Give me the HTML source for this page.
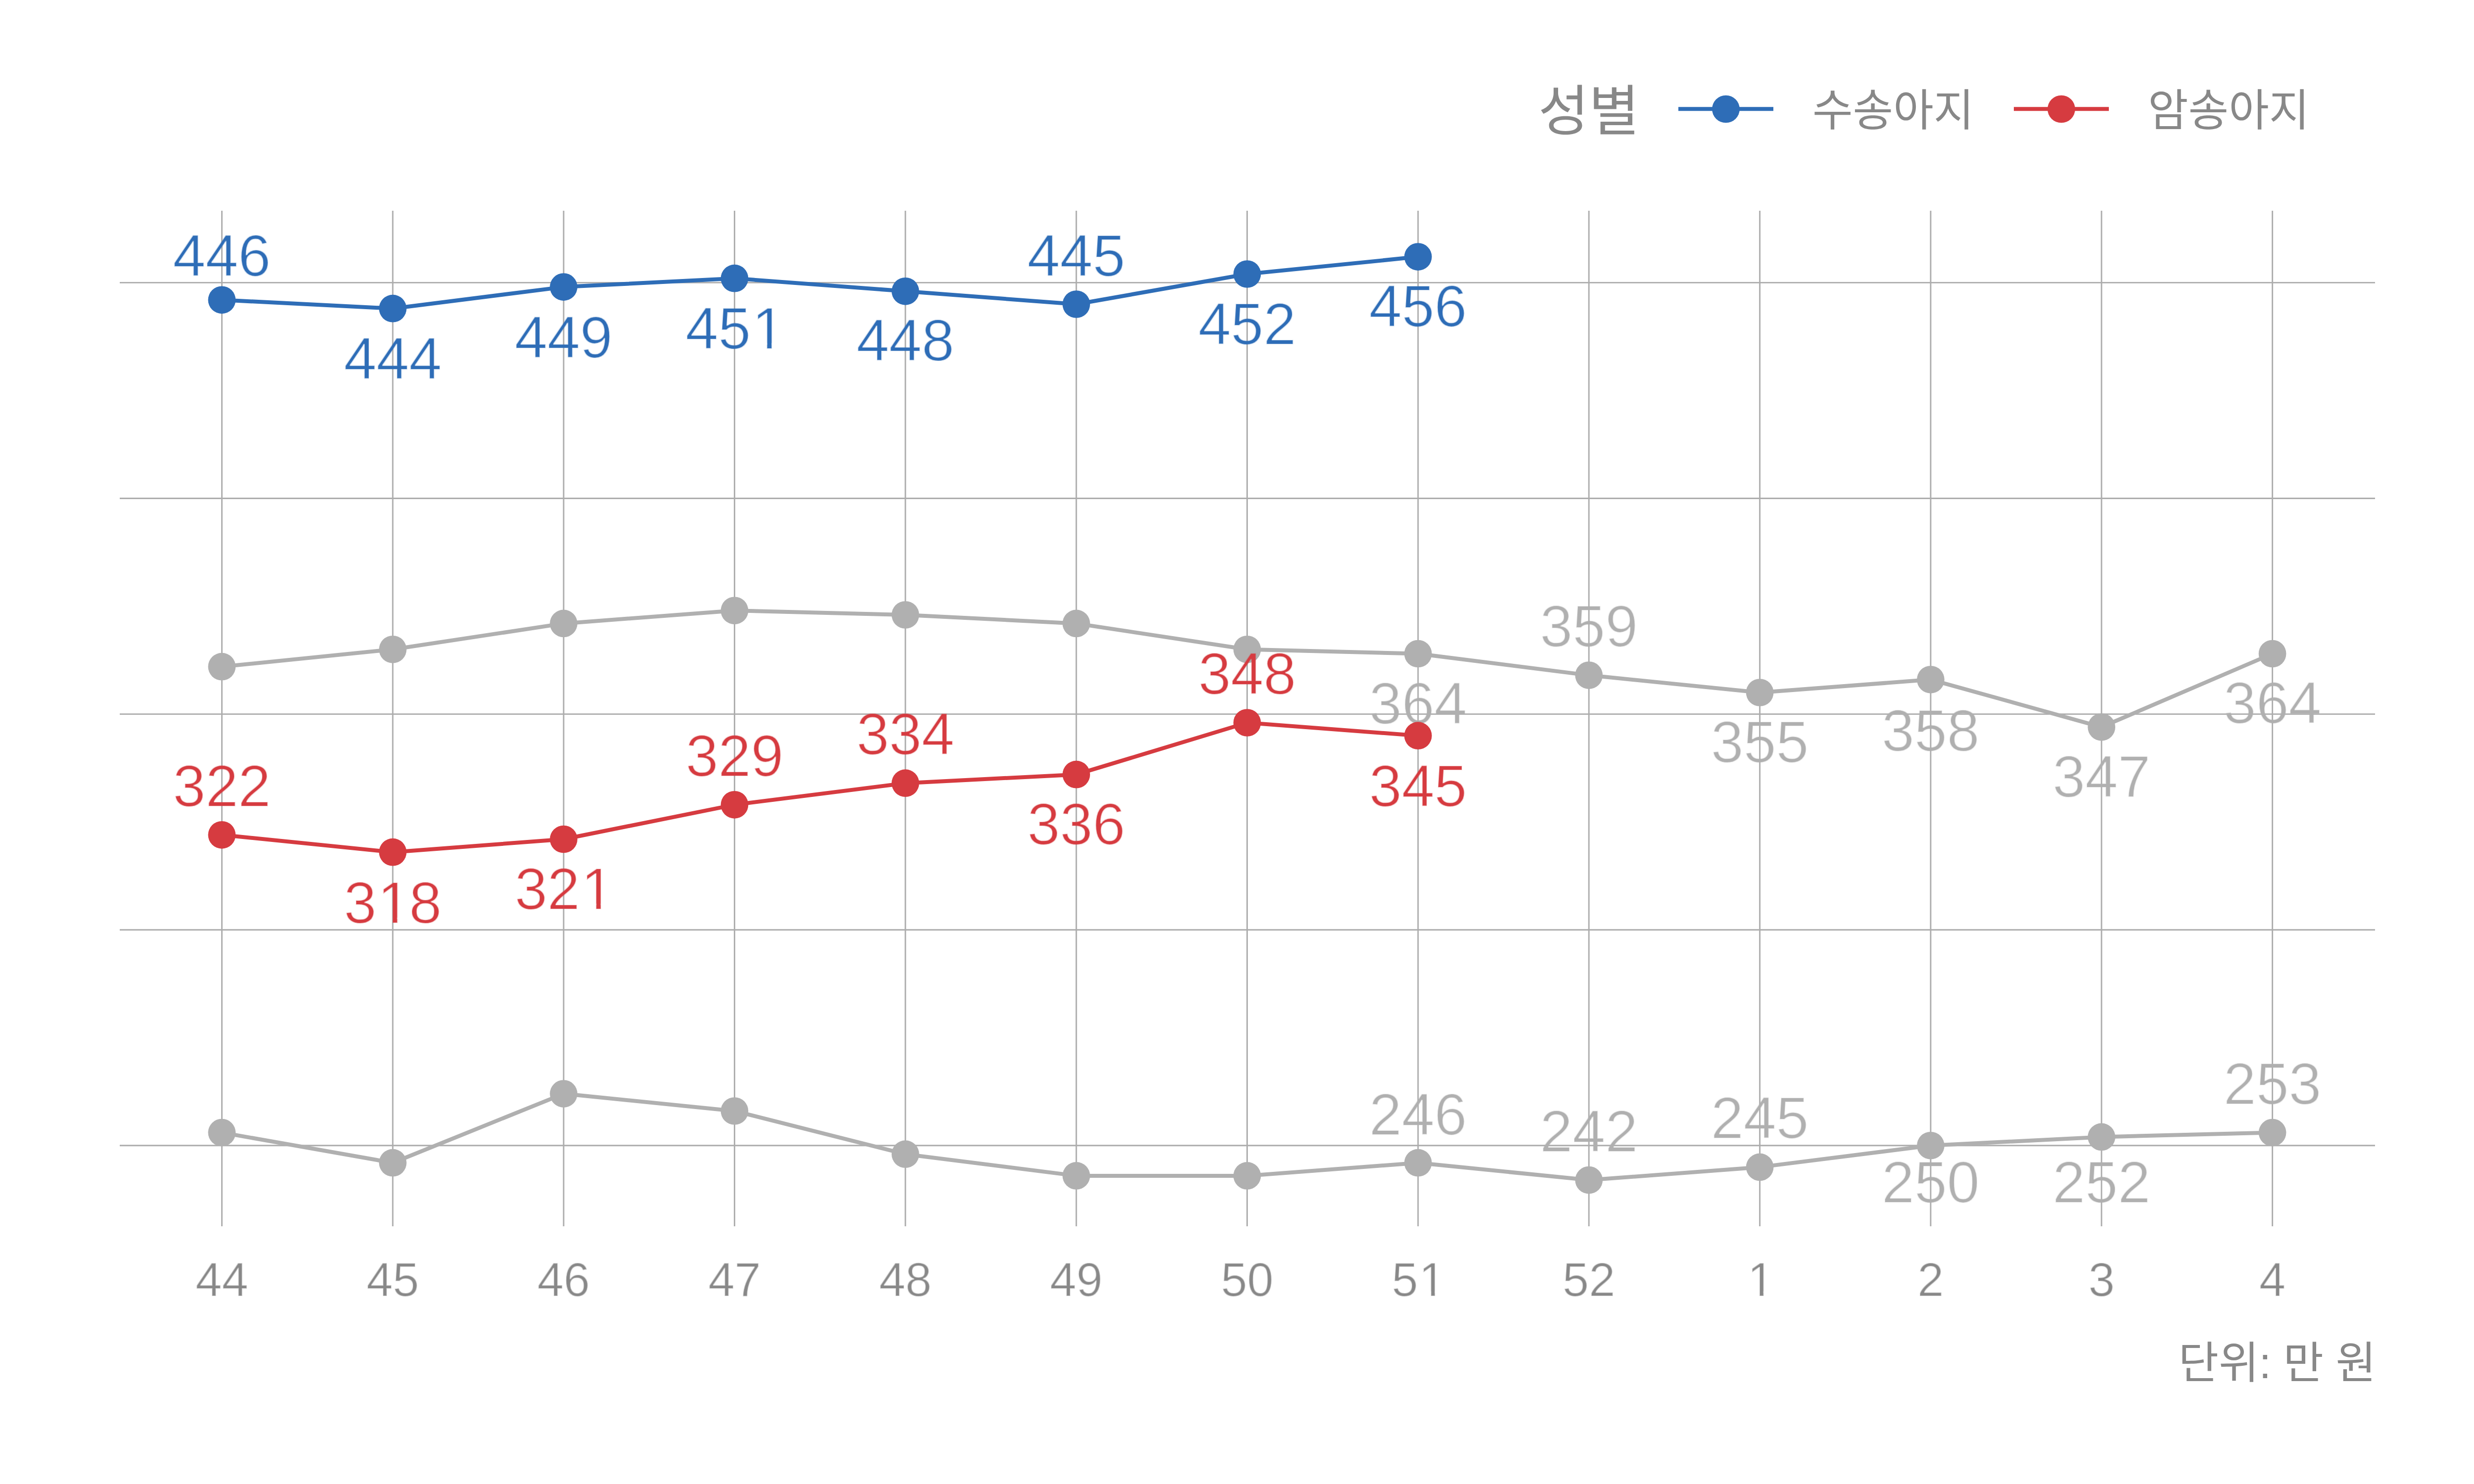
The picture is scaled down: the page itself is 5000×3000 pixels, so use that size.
<!DOCTYPE html><html><head><meta charset="utf-8"><style>html,body{margin:0;padding:0;background:#fff;overflow:hidden}svg{display:block}</style></head><body>
<svg width="5000" height="3000" viewBox="0 0 5000 3000">
<rect width="5000" height="3000" fill="#fff"/>
<defs><filter id="thin" x="-5%" y="-5%" width="110%" height="110%" color-interpolation-filters="sRGB"><feMorphology in="SourceGraphic" operator="erode" radius="1" result="e"/><feComposite in="e" in2="SourceGraphic" operator="arithmetic" k1="0" k2="0.7" k3="0.30" k4="0"/></filter><filter id="thinax" x="-5%" y="-5%" width="110%" height="110%" color-interpolation-filters="sRGB"><feMorphology in="SourceGraphic" operator="erode" radius="1" result="e"/><feComposite in="e" in2="SourceGraphic" operator="arithmetic" k1="0" k2="0.53" k3="0.47" k4="0"/></filter><clipPath id="c0" clipPathUnits="userSpaceOnUse"><rect x="674.9" y="1765.2" width="237.7" height="90.7"/><rect x="674.89" y="1854.6" width="95.90" height="14.2"/><rect x="793.09" y="1854.6" width="10.46" height="14.2"/><rect x="824.98" y="1854.6" width="87.62" height="14.2"/></clipPath><clipPath id="c1" clipPathUnits="userSpaceOnUse"><rect x="1020.2" y="1736.7" width="237.7" height="90.7"/><rect x="1020.24" y="1826.1" width="161.80" height="14.2"/><rect x="1204.34" y="1826.1" width="10.46" height="14.2"/><rect x="1236.24" y="1826.1" width="21.72" height="14.2"/></clipPath><clipPath id="c2" clipPathUnits="userSpaceOnUse"><rect x="1365.6" y="603.9" width="237.7" height="90.7"/><rect x="1365.59" y="693.3" width="161.80" height="14.2"/><rect x="1549.69" y="693.3" width="10.46" height="14.2"/><rect x="1581.59" y="693.3" width="21.72" height="14.2"/></clipPath><clipPath id="c3" clipPathUnits="userSpaceOnUse"><rect x="2792.7" y="2538.6" width="146.2" height="72.8"/><rect x="2792.74" y="2610.2" width="80.88" height="11.5"/><rect x="2891.87" y="2610.2" width="8.43" height="11.5"/><rect x="2917.87" y="2610.2" width="21.09" height="11.5"/></clipPath><clipPath id="c4" clipPathUnits="userSpaceOnUse"><rect x="3510.0" y="2538.6" width="93.1" height="72.8"/><rect x="3509.99" y="2610.2" width="27.76" height="11.5"/><rect x="3556.02" y="2610.2" width="8.43" height="11.5"/><rect x="3582.01" y="2610.2" width="21.09" height="11.5"/></clipPath></defs>
<g stroke="#ADADAD" stroke-width="2.9"><line x1="242" y1="2315.8" x2="4800" y2="2315.8"/><line x1="242" y1="1879.7" x2="4800" y2="1879.7"/><line x1="242" y1="1443.6" x2="4800" y2="1443.6"/><line x1="242" y1="1007.5" x2="4800" y2="1007.5"/><line x1="242" y1="571.4" x2="4800" y2="571.4"/><line x1="448.4" y1="426" x2="448.4" y2="2479"/><line x1="793.8" y1="426" x2="793.8" y2="2479"/><line x1="1139.1" y1="426" x2="1139.1" y2="2479"/><line x1="1484.5" y1="426" x2="1484.5" y2="2479"/><line x1="1829.8" y1="426" x2="1829.8" y2="2479"/><line x1="2175.2" y1="426" x2="2175.2" y2="2479"/><line x1="2520.5" y1="426" x2="2520.5" y2="2479"/><line x1="2865.9" y1="426" x2="2865.9" y2="2479"/><line x1="3211.2" y1="426" x2="3211.2" y2="2479"/><line x1="3556.6" y1="426" x2="3556.6" y2="2479"/><line x1="3901.9" y1="426" x2="3901.9" y2="2479"/><line x1="4247.2" y1="426" x2="4247.2" y2="2479"/><line x1="4592.6" y1="426" x2="4592.6" y2="2479"/></g>
<polyline points="448.4,1347.7 793.8,1312.8 1139.1,1260.4 1484.5,1234.3 1829.8,1243.0 2175.2,1260.4 2520.5,1312.8 2865.9,1321.5 3211.2,1365.1 3556.6,1400.0 3901.9,1373.8 4247.2,1469.8 4592.6,1321.5" fill="none" stroke="#B0B0B0" stroke-width="8" stroke-linejoin="round"/><circle cx="448.4" cy="1347.7" r="27.85" fill="#B0B0B0"/><circle cx="793.8" cy="1312.8" r="27.85" fill="#B0B0B0"/><circle cx="1139.1" cy="1260.4" r="27.85" fill="#B0B0B0"/><circle cx="1484.5" cy="1234.3" r="27.85" fill="#B0B0B0"/><circle cx="1829.8" cy="1243.0" r="27.85" fill="#B0B0B0"/><circle cx="2175.2" cy="1260.4" r="27.85" fill="#B0B0B0"/><circle cx="2520.5" cy="1312.8" r="27.85" fill="#B0B0B0"/><circle cx="2865.9" cy="1321.5" r="27.85" fill="#B0B0B0"/><circle cx="3211.2" cy="1365.1" r="27.85" fill="#B0B0B0"/><circle cx="3556.6" cy="1400.0" r="27.85" fill="#B0B0B0"/><circle cx="3901.9" cy="1373.8" r="27.85" fill="#B0B0B0"/><circle cx="4247.2" cy="1469.8" r="27.85" fill="#B0B0B0"/><circle cx="4592.6" cy="1321.5" r="27.85" fill="#B0B0B0"/>
<polyline points="448.4,2289.6 793.8,2350.7 1139.1,2211.1 1484.5,2246.0 1829.8,2333.2 2175.2,2376.9 2520.5,2376.9 2865.9,2350.7 3211.2,2385.6 3556.6,2359.4 3901.9,2315.8 4247.2,2298.4 4592.6,2289.6" fill="none" stroke="#B0B0B0" stroke-width="8" stroke-linejoin="round"/><circle cx="448.4" cy="2289.6" r="27.85" fill="#B0B0B0"/><circle cx="793.8" cy="2350.7" r="27.85" fill="#B0B0B0"/><circle cx="1139.1" cy="2211.1" r="27.85" fill="#B0B0B0"/><circle cx="1484.5" cy="2246.0" r="27.85" fill="#B0B0B0"/><circle cx="1829.8" cy="2333.2" r="27.85" fill="#B0B0B0"/><circle cx="2175.2" cy="2376.9" r="27.85" fill="#B0B0B0"/><circle cx="2520.5" cy="2376.9" r="27.85" fill="#B0B0B0"/><circle cx="2865.9" cy="2350.7" r="27.85" fill="#B0B0B0"/><circle cx="3211.2" cy="2385.6" r="27.85" fill="#B0B0B0"/><circle cx="3556.6" cy="2359.4" r="27.85" fill="#B0B0B0"/><circle cx="3901.9" cy="2315.8" r="27.85" fill="#B0B0B0"/><circle cx="4247.2" cy="2298.4" r="27.85" fill="#B0B0B0"/><circle cx="4592.6" cy="2289.6" r="27.85" fill="#B0B0B0"/>
<g font-family="'Liberation Sans', sans-serif" font-size="118.5" fill="#B0B0B0" text-anchor="middle" filter="url(#thin)"><text x="2865.9" y="1462.7">364</text><text x="3211.2" y="1307.0">359</text><text x="3556.6" y="1541.0">355</text><text x="3901.9" y="1517.6">358</text><text x="4247.2" y="1610.5">347</text><text x="4592.6" y="1462.2">364</text></g>
<g font-family="'Liberation Sans', sans-serif" font-size="118.5" fill="#B0B0B0" text-anchor="middle" filter="url(#thin)"><text x="2865.9" y="2294.1">246</text><text x="3211.2" y="2327.8">242</text><text x="3556.6" y="2300.7">245</text><text x="3901.9" y="2431.0">250</text><text x="4247.2" y="2431.0">252</text><text x="4592.6" y="2231.5">253</text></g>
<polyline points="448.4,1687.8 793.8,1722.7 1139.1,1696.5 1484.5,1626.8 1829.8,1583.2 2175.2,1565.7 2520.5,1461.0 2865.9,1487.2" fill="none" stroke="#D63B40" stroke-width="8" stroke-linejoin="round"/><circle cx="448.4" cy="1687.8" r="27.85" fill="#D63B40"/><circle cx="793.8" cy="1722.7" r="27.85" fill="#D63B40"/><circle cx="1139.1" cy="1696.5" r="27.85" fill="#D63B40"/><circle cx="1484.5" cy="1626.8" r="27.85" fill="#D63B40"/><circle cx="1829.8" cy="1583.2" r="27.85" fill="#D63B40"/><circle cx="2175.2" cy="1565.7" r="27.85" fill="#D63B40"/><circle cx="2520.5" cy="1461.0" r="27.85" fill="#D63B40"/><circle cx="2865.9" cy="1487.2" r="27.85" fill="#D63B40"/>
<polyline points="448.4,606.3 793.8,623.7 1139.1,580.1 1484.5,562.7 1829.8,588.8 2175.2,615.0 2520.5,554.0 2865.9,519.1" fill="none" stroke="#2E6DB7" stroke-width="8" stroke-linejoin="round"/><circle cx="448.4" cy="606.3" r="27.85" fill="#2E6DB7"/><circle cx="793.8" cy="623.7" r="27.85" fill="#2E6DB7"/><circle cx="1139.1" cy="580.1" r="27.85" fill="#2E6DB7"/><circle cx="1484.5" cy="562.7" r="27.85" fill="#2E6DB7"/><circle cx="1829.8" cy="588.8" r="27.85" fill="#2E6DB7"/><circle cx="2175.2" cy="615.0" r="27.85" fill="#2E6DB7"/><circle cx="2520.5" cy="554.0" r="27.85" fill="#2E6DB7"/><circle cx="2865.9" cy="519.1" r="27.85" fill="#2E6DB7"/>
<g font-family="'Liberation Sans', sans-serif" font-size="118.5" fill="#D63B40" text-anchor="middle" filter="url(#thin)"><text x="448.4" y="1629.5">322</text><text x="694.9" y="1866.0" text-anchor="start" clip-path="url(#c0)">3<tspan dx="2.49">1</tspan><tspan dx="-2.49">8</tspan></text><text x="1040.2" y="1837.5" text-anchor="start" clip-path="url(#c1)">32<tspan dx="2.49">1</tspan></text><text x="1484.5" y="1568.5">329</text><text x="1829.8" y="1524.5">334</text><text x="2175.2" y="1706.5">336</text><text x="2520.5" y="1403.1">348</text><text x="2865.9" y="1629.5">345</text></g>
<g font-family="'Liberation Sans', sans-serif" font-size="118.5" fill="#2E6DB7" text-anchor="middle" filter="url(#thin)"><text x="448.4" y="557.8">446</text><text x="793.8" y="766.3">444</text><text x="1139.1" y="722.8">449</text><text x="1385.6" y="704.6" text-anchor="start" clip-path="url(#c2)">45<tspan dx="2.49">1</tspan></text><text x="1829.8" y="729.4">448</text><text x="2175.2" y="557.8">445</text><text x="2520.5" y="695.6">452</text><text x="2865.9" y="660.0">456</text></g>
<g font-family="'Liberation Sans', sans-serif" font-size="95.5" fill="#888888" text-anchor="middle" filter="url(#thinax)"><text x="448.4" y="2619.8">44</text><text x="793.8" y="2619.8">45</text><text x="1139.1" y="2619.8">46</text><text x="1484.5" y="2619.8">47</text><text x="1829.8" y="2619.8">48</text><text x="2175.2" y="2619.8">49</text><text x="2520.5" y="2619.8">50</text><text x="2812.7" y="2619.8" text-anchor="start" clip-path="url(#c3)">5<tspan dx="2.01">1</tspan></text><text x="3211.2" y="2619.8">52</text><text x="3530.0" y="2619.8" text-anchor="start" clip-path="url(#c4)"><tspan dx="2.01">1</tspan></text><text x="3901.9" y="2619.8">2</text><text x="4247.2" y="2619.8">3</text><text x="4592.6" y="2619.8">4</text></g>
<text x="3109" y="264" font-family="'Liberation Sans', 'Noto Sans CJK KR', sans-serif" font-size="111" fill="#888888">성별</text>
<line x1="3392" y1="220.2" x2="3584" y2="220.2" stroke="#2E6DB7" stroke-width="8"/>
<circle cx="3488" cy="220.5" r="27.85" fill="#2E6DB7"/>
<text x="3663" y="254" font-family="'Liberation Sans', 'Noto Sans CJK KR', sans-serif" font-size="88.7" fill="#888888">수송아지</text>
<line x1="4070" y1="220.2" x2="4262" y2="220.2" stroke="#D63B40" stroke-width="8"/>
<circle cx="4166" cy="220.5" r="27.85" fill="#D63B40"/>
<text x="4341" y="254" font-family="'Liberation Sans', 'Noto Sans CJK KR', sans-serif" font-size="88.7" fill="#888888">암송아지</text>
<text x="4802" y="2785.5" font-family="'Liberation Sans', 'Noto Sans CJK KR', sans-serif" font-size="88.5" fill="#888888" text-anchor="end">단위: 만 원</text>
</svg></body></html>
